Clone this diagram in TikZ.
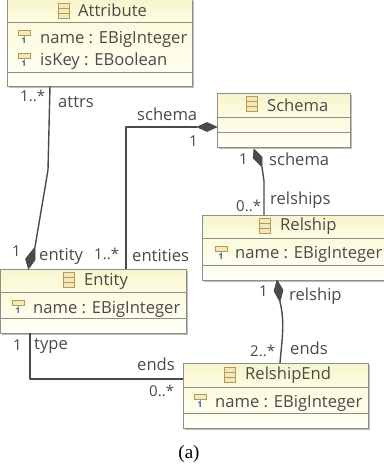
\documentclass[tikz,border=0pt]{standalone}
\usepackage{fontspec}
\setmainfont{Open Sans}
\newfontfamily\capfont{Liberation Serif}
\usetikzlibrary{arrows.meta,calc}
\definecolor{ink}{HTML}{4A4A4A}
\definecolor{boxline}{HTML}{8E8E86}
\definecolor{headtop}{HTML}{F7F5CC}
\definecolor{headbot}{HTML}{FDFCE2}
\definecolor{bodytop}{HTML}{FCFBDD}
\definecolor{bodybot}{HTML}{FFFFF6}
\definecolor{tan}{HTML}{B59A55}
\definecolor{tanfill}{HTML}{F3E7BC}
\definecolor{keyblue}{HTML}{2B5C9E}
\definecolor{shadowc}{HTML}{BDBDBD}
\tikzset{
  umltext/.style={font=\fontsize{16.6}{18}\selectfont,text=ink,inner sep=0pt},
  lbl/.style={umltext},
  mult/.style={umltext,font=\fontsize{15}{18}\selectfont},
  conn/.style={draw=ink,line width=1.4pt,line join=round},
  dia/.style={draw=ink,fill=ink,line width=.6pt,line join=round},
  cicon/.style={draw=tan,fill=tanfill,line width=1pt},
}
% #1 name, #2 x0, #3 y0, #4 x1, #5 y1, #6 header bottom, #7 separator
\newcommand{\umlbox}[7]{%
  \fill[shadowc] (#2+2,#3+2) rectangle (#4+2,#5+2);
  \shade[top color=bodytop,bottom color=bodybot] (#2,#6) rectangle (#4,#5);
  \shade[top color=headtop,bottom color=headbot] (#2,#3) rectangle (#4,#6);
  \node[draw=boxline,line width=1pt,minimum width=#4pt-#2pt,minimum height=#5pt-#3pt,inner sep=0pt,outer sep=0pt,anchor=north west] (#1) at (#2,#3) {};
  \draw[boxline,line width=1pt] (#2,#6) -- (#4,#6);
  \draw[boxline,line width=1pt] (#2,#7) -- (#4,#7);
}
% class icon at centre x,y
\newcommand{\classicon}[2]{%
  \draw[cicon] (#1-5.5,#2-7.5) rectangle (#1+5.5,#2+7.5);
  \draw[tan,line width=1pt] (#1-5.5,#2-2.5) -- (#1+5.5,#2-2.5) (#1-5.5,#2+2.5) -- (#1+5.5,#2+2.5);
}
% attribute icon at centre x, top y
\newcommand{\attricon}[2]{%
  \draw[cicon] (#1-6,#2) rectangle (#1+6,#2+5);
  \draw[tan,line width=1pt] (#1,#2+5) -- (#1,#2+7);
  \node[inner sep=0pt,text=keyblue,font=\fontsize{8}{9}\selectfont\bfseries] at (#1,#2+11) {1};
}
\begin{document}
\begin{tikzpicture}[x=1pt,y=-1pt]
\useasboundingbox (0,0) rectangle (383,471);
\fill[white] (0,0) rectangle (383,471);

\umlbox{attribute}{7}{-1}{192}{86}{22}{72}
\umlbox{schemabox}{217}{93}{350}{147}{117}{132}
\umlbox{relship}{202}{215}{392}{280}{238}{265}
\umlbox{entity}{0}{269}{186}{333}{292}{318}
\umlbox{relend}{183}{363}{368}{428}{387}{413}

% titles
\classicon{64}{11}
\node[umltext,anchor=west] (t1) at (78,10) {Attribute};
\classicon{252}{104}
\node[umltext,anchor=west] (t2) at (267,105) {Schema};
\classicon{265}{226}
\node[umltext,anchor=west] (t3) at (280,226) {Relship};
\classicon{69}{280}
\node[umltext,anchor=west] (t4) at (84,281) {Entity};
\classicon{230}{375}
\node[umltext,anchor=west] (t5) at (245,375) {RelshipEnd};

% attributes
\attricon{24}{30}
\node[umltext,anchor=west] (a1) at (40,39) {name : EBigInteger};
\attricon{24}{53}
\node[umltext,anchor=west] (a2) at (40,61) {isKey : EBoolean};
\attricon{221}{246}
\node[umltext,anchor=west] (a3) at (235,254) {name : EBigInteger};
\attricon{18}{300}
\node[umltext,anchor=west] (a4) at (33,309) {name : EBigInteger};
\attricon{200}{394}
\node[umltext,anchor=west] (a5) at (215,403) {name : EBigInteger};

% connector ends
\coordinate (attrsTop) at (50,86);
\coordinate (attrsBend) at (48,170);
\coordinate (attrsKnee) at (35,247);
\coordinate (entTipA) at (28.5,269);
\coordinate (entTipB) at (126,269);
\coordinate (schTipA) at (217,127);
\coordinate (schDia) at (197,127);
\coordinate (schCorner) at (126,127);
\coordinate (schTipB) at (254,149);
\coordinate (schDiaB) at (262,167);
\coordinate (schKnee) at (264,181);
\coordinate (relTop) at (264,215);
\coordinate (relTip) at (277,280);
\coordinate (relDia) at (280,302);
\coordinate (relEndTop) at (280,363);
\coordinate (typeTop) at (30,333);
\coordinate (typeCorner) at (30,379);
\coordinate (endLeft) at (183,379);

\draw[conn] (attrsTop) -- (attrsBend) -- (attrsKnee);
\draw[dia] (entTipA) -- (25.5,259) -- (attrsKnee) -- (35,260) -- cycle;
\draw[conn] (schDia) -- (schCorner) -- (entTipB);
\draw[dia] (schTipA) -- (207,122.5) -- (schDia) -- (207,131.5) -- cycle;
\draw[conn] (relTop) -- (schKnee) -- (schDiaB);
\draw[dia] (schTipB) -- (253,158) -- (schDiaB) -- (262,157) -- cycle;
\draw[conn] (relEndTop) .. controls (282,340) and (285,322) .. (relDia);
\draw[dia] (relTip) -- (274,291) -- (relDia) -- (283,290) -- cycle;
\draw[conn] (typeTop) -- (typeCorner) -- (endLeft);

% labels
\node[mult,anchor=west] (l1) at (20,96) {1..*};
\node[lbl,anchor=west] (l2) at (58,102) {attrs};
\node[lbl,anchor=west] (l3) at (137,114) {schema};
\node[mult,anchor=west] (l4) at (189,141) {1};
\node[mult,anchor=west] (l5) at (239,159) {1};
\node[lbl,anchor=west] (l6) at (269,159) {schema};
\node[mult,anchor=west] (l7) at (236,206) {0..*};
\node[lbl,anchor=west] (l8) at (270,200) {relships};
\node[mult,anchor=west] (l9) at (12,251) {1};
\node[lbl,anchor=west] (l10) at (39,256) {entity};
\node[mult,anchor=west] (l11) at (94,254) {1..*};
\node[lbl,anchor=west] (l12) at (132,255) {entities};
\node[mult,anchor=west] (l13) at (13,345) {1};
\node[lbl,anchor=west] (l14) at (34,346) {type};
\node[lbl,anchor=west] (l15) at (137,364) {ends};
\node[mult,anchor=west] (l16) at (149,391) {0..*};
\node[mult,anchor=west] (l17) at (259,291) {1};
\node[lbl,anchor=west] (l18) at (289,296) {relship};
\node[mult,anchor=west] (l19) at (250,351) {2..*};
\node[lbl,anchor=west] (l20) at (290,348) {ends};
\node[inner sep=0pt,text=black,font=\capfont\fontsize{19}{22}\selectfont] (cap) at (189,454) {(a)};
\end{tikzpicture}
\end{document}
